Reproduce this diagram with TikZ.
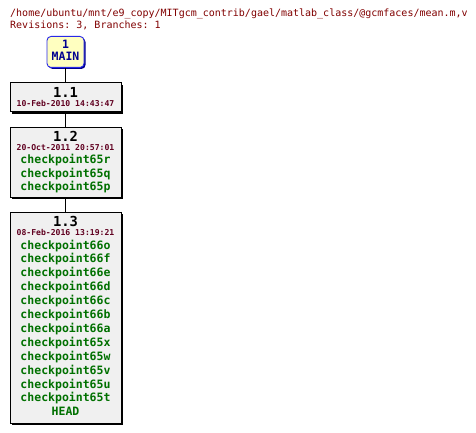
\documentclass[tikz,border=0pt]{standalone}
\usepackage{fontspec}
\setmonofont{DejaVu Sans Mono}
\usetikzlibrary{shadows}
\definecolor{pathred}{HTML}{800000}
\definecolor{datered}{HTML}{600020}
\definecolor{taggreen}{HTML}{007000}
\definecolor{mainblue}{HTML}{000090}
\definecolor{mainedge}{HTML}{2828E8}
\definecolor{mainfill}{HTML}{FFFFC0}
\definecolor{revfill}{HTML}{F0F0F0}
\begin{document}
\begin{tikzpicture}[x=1pt,y=1pt]
\tikzset{
    revbox/.style={draw=black, line width=0.9pt, fill=revfill, minimum width=111pt, minimum height=#1, inner sep=0pt, anchor=north,
      drop shadow={shadow xshift=2pt, shadow yshift=-2pt, fill=black, opacity=1}},
    mainbox/.style={draw=mainedge, line width=0.9pt, fill=mainfill, rounded corners=4pt, minimum width=37pt, minimum height=31pt, inner sep=0pt, anchor=north,
      drop shadow={shadow xshift=1.5pt, shadow yshift=-1.5pt, fill=mainblue, opacity=1}},
    headtext/.style={anchor=base west, inner sep=0pt, text=pathred, font=\ttfamily\fontsize{10}{12}\selectfont},
    revnum/.style={anchor=base, inner sep=0pt, font=\ttfamily\bfseries\fontsize{13.8}{16}\selectfont},
    revdate/.style={anchor=base, inner sep=0pt, text=datered, font=\ttfamily\bfseries\fontsize{8.1}{10}\selectfont},
    tagtext/.style={anchor=base, inner sep=0pt, text=taggreen, font=\ttfamily\bfseries\fontsize{11.5}{14}\selectfont},
    maintext/.style={anchor=base, inner sep=0pt, text=mainblue, font=\ttfamily\bfseries\fontsize{11.5}{14}\selectfont}
}
\useasboundingbox (0,0) rectangle (476,-433);

% header
\node[headtext] (file) at (10,-16.5) {/home/ubuntu/mnt/e9\_copy/MITgcm\_contrib/gael/matlab\_class/@gcmfaces/mean.m,v};
\node[headtext] (revs) at (10,-28.3) {Revisions: 3, Branches: 1};

% boxes
\node[mainbox] (main) at (65.5,-36) {};
\node[revbox=29pt] (r11) at (65.5,-82.5) {};
\node[revbox=70.5pt] (r12) at (65.5,-126.5) {};
\node[revbox=211pt] (r13) at (65.5,-212) {};

% connectors
\draw[line width=0.9pt] (main) -- (r11);
\draw[line width=0.9pt] (r11) -- (r12);
\draw[line width=0.9pt] (r12) -- (r13);

% main branch
\node[maintext] (mainnum) at ([yshift=-12.7pt]main.north) {1};
\node[maintext] (mainname) at ([yshift=-24.3pt]main.north) {MAIN};

% revision 1.1
\node[revnum] (n11) at ([yshift=-14.8pt]r11.north) {1.1};
\node[revdate] (d11) at ([yshift=-23.8pt]r11.north) {10-Feb-2010 14:43:47};

% revision 1.2
\node[revnum] (n12) at ([yshift=-14.8pt]r12.north) {1.2};
\node[revdate] (d12) at ([yshift=-23.8pt]r12.north) {20-Oct-2011 20:57:01};
\foreach \tg [count=\i] in {checkpoint65r,checkpoint65q,checkpoint65p}
{
  \node[tagtext] (t12-\i) at ([yshift={-37pt-13.5pt*(\i-1)}]r12.north) {\tg};
}

% revision 1.3
\node[revnum] (n13) at ([yshift=-14.8pt]r13.north) {1.3};
\node[revdate] (d13) at ([yshift=-23.8pt]r13.north) {08-Feb-2016 13:19:21};
\foreach \tg [count=\i] in {checkpoint66o,checkpoint66f,checkpoint66e,checkpoint66d,checkpoint66c,checkpoint66b,checkpoint66a,checkpoint65x,checkpoint65w,checkpoint65v,checkpoint65u,checkpoint65t,HEAD}
{
  \node[tagtext] (t13-\i) at ([yshift={-37pt-13.9pt*(\i-1)}]r13.north) {\tg};
}
\end{tikzpicture}
\end{document}
